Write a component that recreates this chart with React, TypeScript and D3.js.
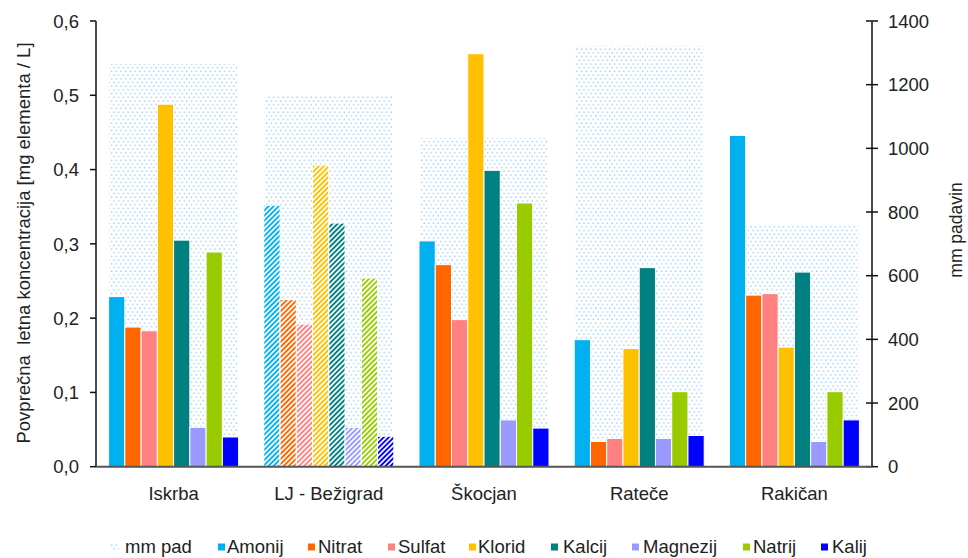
import React from "react";
import * as d3 from "d3";

const stations = ["Iskrba", "LJ - Bežigrad", "Škocjan", "Rateče", "Rakičan"];
const series = ["Amonij", "Nitrat", "Sulfat", "Klorid", "Kalcij", "Magnezij", "Natrij", "Kalij"];
const colors = ["#00B0F0", "#FF6600", "#FF8080", "#FFC000", "#008080", "#9999FF", "#99CC00", "#0000FF"];
const rainMm = [1265, 1167, 1032, 1322, 762];
const amonij = [0.229, 0.352, 0.304, 0.171, 0.446];
const nitrat = [0.188, 0.225, 0.272, 0.034, 0.231];
const sulfat = [0.183, 0.192, 0.198, 0.038, 0.233];
const klorid = [0.488, 0.406, 0.556, 0.159, 0.161];
const kalcij = [0.305, 0.328, 0.399, 0.268, 0.262];
const magnezij = [0.053, 0.053, 0.063, 0.038, 0.034];
const natrij = [0.289, 0.254, 0.355, 0.101, 0.101];
const kalij = [0.040, 0.041, 0.052, 0.042, 0.063];
const values = [amonij, nitrat, sulfat, klorid, kalcij, magnezij, natrij, kalij];
const leftTicks = [0, 0.1, 0.2, 0.3, 0.4, 0.5, 0.6];
const rightTicks = [0, 200, 400, 600, 800, 1000, 1200, 1400];
const hatchedStation = "LJ - Bežigrad";

const legendX = [
  { sx: 110, tx: 125 },
  { sx: 218, tx: 227 },
  { sx: 308, tx: 318 },
  { sx: 388, tx: 398 },
  { sx: 469, tx: 478 },
  { sx: 551, tx: 563 },
  { sx: 632, tx: 643 },
  { sx: 743, tx: 753 },
  { sx: 821, tx: 832 },
];

const FONT = "'Liberation Sans', Arial, sans-serif";
const TXT = "#222";

export default function App() {
  const x0 = 96, x1 = 872, yTop = 21, yBot = 466.7;
  const xBand = d3.scaleBand<string>().domain(stations).range([x0, x1]).padding(0);
  const yL = d3.scaleLinear().domain([0, 0.6]).range([yBot, yTop]);
  const yR = d3.scaleLinear().domain([0, 1400]).range([yBot, yTop]);
  const groupHalf = 65;
  const rainHalf = 64;
  const fs = 18.5;

  return (
    <svg width={968} height={558} style={{ position: "absolute", left: 0, top: 0, background: "#fff" }} fontFamily={FONT}>
      <defs>
        <pattern id="dots" patternUnits="userSpaceOnUse" width={4.7} height={7.4}>
          <rect x={0.5} y={0.5} width={1.3} height={1.3} fill="#8CC2F6" />
          <rect x={2.85} y={4.2} width={1.3} height={1.3} fill="#8CC2F6" />
        </pattern>
        {colors.map((c, i) => (
          <pattern key={i} id={`hatch${i}`} patternUnits="userSpaceOnUse" width={3.6} height={3.6} patternTransform="rotate(45)">
            <rect x={0} y={0} width={3.6} height={3.6} fill="#fff" />
            <rect x={0} y={0} width={1.9} height={3.6} fill={c} />
          </pattern>
        ))}
      </defs>

      {/* rain bars */}
      {stations.map((s, i) => {
        const c = (xBand(s) as number) + xBand.bandwidth() / 2;
        return (
          <rect key={s} x={c - rainHalf} y={yR(rainMm[i])} width={rainHalf * 2} height={yBot - yR(rainMm[i])} fill="url(#dots)" />
        );
      })}

      {/* ion bars */}
      {stations.map((s, i) => {
        const c = (xBand(s) as number) + xBand.bandwidth() / 2;
        const inner = d3.scaleBand<string>().domain(series).range([c - groupHalf, c + groupHalf]).padding(0);
        return (
          <g key={s}>
            {series.map((ser, j) => {
              const v = values[j][i];
              const fill = s === hatchedStation ? `url(#hatch${j})` : colors[j];
              return (
                <rect key={ser} x={inner(ser) as number} y={yL(v)} width={inner.bandwidth()} height={yBot - yL(v)}
                  fill={fill} stroke="#fff" strokeWidth={1} />
              );
            })}
          </g>
        );
      })}

      {/* left axis */}
      <line x1={x0} x2={x0} y1={yTop} y2={yBot} stroke="#111" strokeWidth={1.5} />
      {leftTicks.map((t) => (
        <g key={t}>
          <line x1={x0 - 6} x2={x0} y1={yL(t)} y2={yL(t)} stroke="#111" strokeWidth={1.5} />
          <text x={79} y={yL(t)} dy="0.36em" textAnchor="end" fontSize={fs} fill={TXT}>
            {d3.format(".1f")(t).replace(".", ",")}
          </text>
        </g>
      ))}

      {/* right axis */}
      <line x1={x1} x2={x1} y1={yTop} y2={yBot} stroke="#111" strokeWidth={1.5} />
      {rightTicks.map((t) => (
        <g key={t}>
          <line x1={x1 - 6} x2={x1 + 6} y1={yR(t)} y2={yR(t)} stroke="#111" strokeWidth={1.5} />
          <text x={888} y={yR(t)} dy="0.36em" textAnchor="start" fontSize={fs} fill={TXT}>{t}</text>
        </g>
      ))}

      {/* bottom axis */}
      <line x1={x0} x2={x1} y1={yBot} y2={yBot} stroke="#555" strokeWidth={2} />
      {stations.map((s) => (
        <text key={s} x={(xBand(s) as number) + xBand.bandwidth() / 2} y={500} textAnchor="middle" fontSize={fs} fill={TXT}>{s}</text>
      ))}

      {/* axis titles */}
      <text transform={`translate(23,243) rotate(-90)`} textAnchor="middle" dy="0.36em" fontSize={fs} fill={TXT} style={{ whiteSpace: "pre" }}>
        {"Povprečna  letna koncentracija [mg elementa / L]"}
      </text>
      <text transform={`translate(962,230) rotate(-90)`} textAnchor="middle" fontSize={17.5} fill={TXT}>
        mm padavin
      </text>

      {/* legend */}
      <g>
        <rect x={legendX[0].sx} y={543} width={9} height={8} fill="url(#dots)" />
        <text x={legendX[0].tx} y={553} fontSize={fs} fill={TXT}>mm pad</text>
        {series.map((ser, j) => (
          <g key={ser}>
            <rect x={legendX[j + 1].sx} y={543.5} width={7} height={7} fill={colors[j]} />
            <text x={legendX[j + 1].tx} y={553} fontSize={fs} fill={TXT}>{ser}</text>
          </g>
        ))}
      </g>
    </svg>
  );
}
